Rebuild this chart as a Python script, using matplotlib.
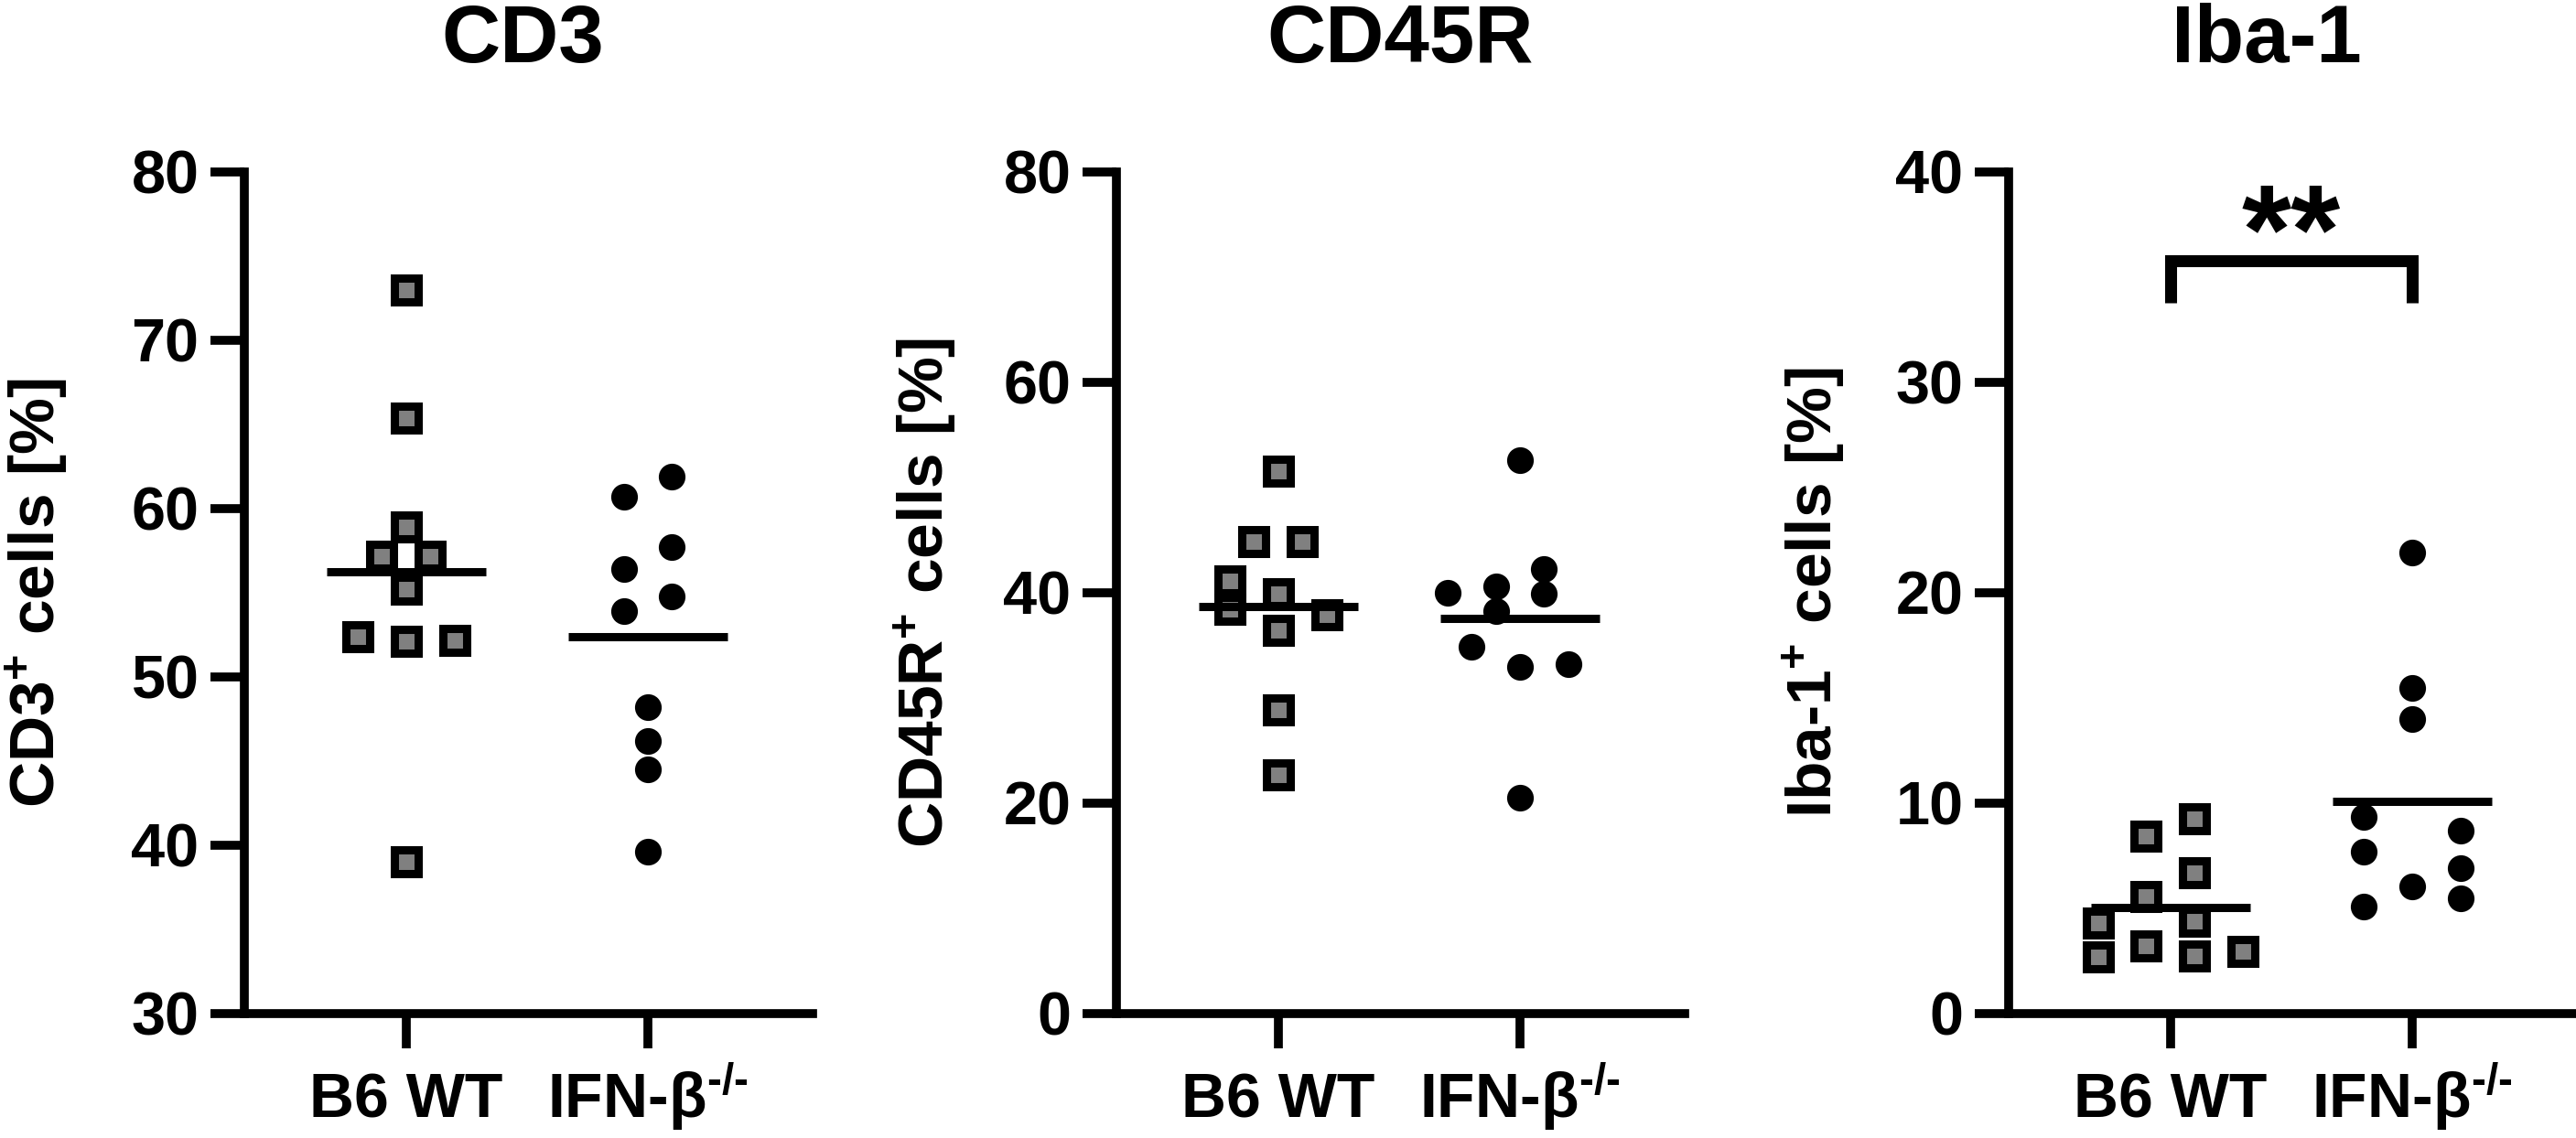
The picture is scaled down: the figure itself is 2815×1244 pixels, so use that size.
import numpy as np
import matplotlib
matplotlib.use("Agg")
import matplotlib.pyplot as plt

plt.rcParams["font.family"] = ["Liberation Sans", "DejaVu Sans"]
plt.rcParams["font.weight"] = "bold"
plt.rcParams["mathtext.fontset"] = "custom"
plt.rcParams["mathtext.rm"] = "Liberation Sans"
plt.rcParams["mathtext.bf"] = "Liberation Sans:bold"
plt.rcParams["mathtext.it"] = "Liberation Sans:italic"

# Gruppen
groups = ["B6 WT", r"IFN-$\mathrm{\beta}^{\text{-/-}}$"]

# CD3+ Zellen [%]
cd3_wt = [73.0, 65.4, 58.9, 57.2, 57.2, 55.2, 52.4, 52.1, 52.2, 39.0]
cd3_ko = [60.7, 61.9, 57.7, 56.4, 54.8, 53.9, 48.2, 46.2, 44.5, 39.6]

# CD45R+ Zellen [%]
cd45r_wt = [51.6, 44.9, 44.9, 41.1, 39.9, 38.4, 37.9, 36.4, 28.9, 22.7]
cd45r_ko = [52.6, 42.3, 40.0, 40.6, 39.9, 38.3, 34.9, 33.0, 33.2, 20.5]

# Iba-1+ Zellen [%]
iba_wt = [9.28, 8.45, 6.7, 5.56, 4.3, 4.4, 3.2, 2.7, 2.75, 2.95]
iba_ko = [21.9, 15.5, 14.0, 9.36, 8.7, 7.7, 6.9, 6.05, 5.5, 5.07]

# seitliche Verschiebung der Punkte (Streudiagramm-Layout, in halben Markerbreiten)
cd3_wt_off = [0, 0, 0, -1, 1, 0, -2, 0, 2, 0]
cd3_ko_off = [-1, 1, 1, -1, 1, -1, 0, 0, 0, 0]
cd45r_wt_off = [0, -1, 1, -2, 0, -2, 2, 0, 0, 0]
cd45r_ko_off = [0, 1, -3, -1, 1, -1, -2, 0, 2, 0]
iba_wt_off = [1, -1, 1, -1, -3, 1, -1, -3, 1, 3]
iba_ko_off = [0, 0, 0, -2, 2, -2, 2, 0, 2, -2]

STEP = 0.1
W, H = 2815, 1244


def draw_panel(ax, title, title_x, ylabel, ylabel_x, wt, ko, wt_off, ko_off, ylim, yticks):
    ax.set_xlim(-0.67, 1.682)
    ax.set_ylim(*ylim)

    ax.plot(0 + STEP * np.array(wt_off), wt, ls="none", marker="s", ms=19.4,
            mfc="#808080", mec="black", mew=6.5, clip_on=False, zorder=3)
    ax.plot(1 + STEP * np.array(ko_off), ko, ls="none", marker="o", ms=21,
            mfc="black", mec="black", mew=0, clip_on=False, zorder=3)

    # Mittelwerte
    for x, vals in ((0, wt), (1, ko)):
        m = np.mean(vals)
        ax.plot([x - 0.33, x + 0.33], [m, m], color="black", lw=6.5,
                solid_capstyle="butt", zorder=4)

    for s in ("top", "right"):
        ax.spines[s].set_visible(False)
    for s in ("left", "bottom"):
        ax.spines[s].set_linewidth(7)
        ax.spines[s].set_capstyle("projecting")

    ax.set_yticks(yticks)
    ax.set_xticks([0, 1])
    ax.set_xticklabels(groups)
    ax.tick_params(axis="both", direction="out", length=27, width=7)
    ax.tick_params(axis="y", labelsize=48, pad=8.6)
    ax.tick_params(axis="x", labelsize=49, pad=55)
    for lab in ax.get_xticklabels():
        lab.set_verticalalignment("baseline")

    ax.text(ylabel_x, 0.5, ylabel, transform=ax.transAxes, rotation=90,
            rotation_mode="anchor", ha="center", va="center", fontsize=50)
    fig.text(title_x, 1 - 68 / H, title, ha="center", va="baseline", fontsize=64)


fig = plt.figure(figsize=(W / 100, H / 100), dpi=100)
bottom = (H - 1108) / H
height = (1108 - 188) / H
width = 621 / W

ax1 = fig.add_axes([267 / W, bottom, width, height])
ax2 = fig.add_axes([1220 / W, bottom, width, height])
ax3 = fig.add_axes([2195 / W, bottom, width, height])

draw_panel(ax1, "CD3", 571 / W, r"CD3$^{\mathbf{+}}$ cells [%]", -0.3655,
           cd3_wt, cd3_ko, cd3_wt_off, cd3_ko_off, (30, 80), range(30, 81, 10))
draw_panel(ax2, "CD45R", 1530 / W, r"CD45R$^{\mathbf{+}}$ cells [%]", -0.3366,
           cd45r_wt, cd45r_ko, cd45r_wt_off, cd45r_ko_off, (0, 80), range(0, 81, 20))
draw_panel(ax3, "Iba-1", 2477 / W, r"Iba-1$^{\mathbf{+}}$ cells [%]", -0.343,
           iba_wt, iba_ko, iba_wt_off, iba_ko_off, (0, 40), range(0, 41, 10))

# Signifikanz (**)
ax3.plot([0, 0, 1, 1], [33.8, 35.78, 35.78, 33.8], color="black", lw=9.4,
         solid_joinstyle="miter", solid_capstyle="butt", clip_on=False)
ax3.text(0.5, 35.2, "**", ha="center", va="baseline", fontsize=100)

fig.savefig("out.png", dpi=100)
